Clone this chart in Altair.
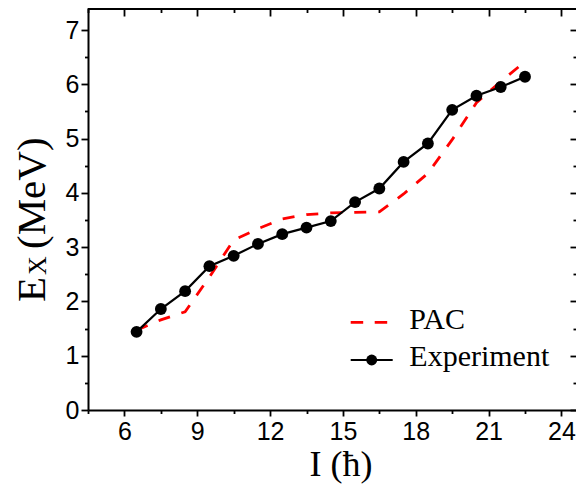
import altair as alt
import pandas as pd

# ---- data ----
spin = [6.5, 7.5, 8.5, 9.5, 10.5, 11.5, 12.5, 13.5, 14.5, 15.5, 16.5, 17.5, 18.5, 19.5, 20.5, 21.5, 22.5]
exp_energy = [1.44, 1.86, 2.19, 2.65, 2.84, 3.06, 3.24, 3.36, 3.48, 3.83, 4.08, 4.57, 4.91, 5.53, 5.79, 5.95, 6.14]
pac_energy = [1.47, 1.66, 1.81, 2.45, 3.13, 3.34, 3.52, 3.60, 3.63, 3.64, 3.65, 3.98, 4.36, 4.98, 5.66, 6.05, 6.42]

x_major = [6, 9, 12, 15, 18, 21, 24]
x_minor = [4.5, 7.5, 10.5, 13.5, 16.5, 19.5, 22.5]
y_major = [0, 1, 2, 3, 4, 5, 6, 7]
y_minor = [0.5, 1.5, 2.5, 3.5, 4.5, 5.5, 6.5]

legend_labels = ["PAC", "Experiment"]
x_title = "I (\u0127)"
y_title_parts = ["E", "X", "(MeV)"]

W, H = 488, 402
X_DOM = [4.5, 24.6]
Y_DOM = [0, 7.406]

df = pd.DataFrame({"I": spin, "exp": exp_energy, "pac": pac_energy})
one = pd.DataFrame({"k": [0]})

xs = alt.Scale(domain=X_DOM, nice=False, zero=False)
ys = alt.Scale(domain=Y_DOM, nice=False, zero=False)

common = dict(grid=False, title=None, tickColor="black", domainColor="black",
              tickWidth=1.8, domainWidth=2, labelColor="black",
              labelFont="Liberation Sans", labelFontSize=25)


def ax(**kw):
    d = dict(common)
    d.update(kw)
    return alt.Axis(**d)


base = alt.Chart(df)

pac = base.mark_line(color="#ff0000", strokeWidth=2.8, strokeDash=[12, 12]).encode(
    x=alt.X("I:Q", scale=xs, axis=ax(orient="bottom", values=x_major, tickSize=6,
                                     labelPadding=3, format="d")),
    y=alt.Y("pac:Q", scale=ys, axis=ax(orient="left", values=y_major, tickSize=7,
                                       labelPadding=2, format="d")),
)

exp_line = base.mark_line(color="black", strokeWidth=2.2).encode(
    x=alt.X("I:Q", scale=xs, axis=ax(orient="bottom", values=x_minor, tickSize=3.5,
                                     labels=False, domain=False)),
    y=alt.Y("exp:Q", scale=ys, axis=ax(orient="left", values=y_minor, tickSize=3.5,
                                       labels=False, domain=False)),
)

exp_pts = base.mark_circle(color="black", opacity=1, size=140).encode(
    x=alt.X("I:Q", scale=xs, axis=ax(orient="top", values=x_major, tickSize=8, offset=-8,
                                     labels=False, domain=False)),
    y=alt.Y("exp:Q", scale=ys, axis=ax(orient="right", values=y_major, tickSize=6, offset=-6,
                                       labels=False, domain=False)),
)

ghost = base.mark_circle(opacity=0, size=1).encode(
    x=alt.X("I:Q", scale=xs, axis=ax(orient="top", values=x_minor, tickSize=4.5, offset=-4.5,
                                     labels=False, domain=False)),
    y=alt.Y("exp:Q", scale=ys, axis=ax(orient="right", values=y_minor, tickSize=3, offset=-3,
                                       labels=False, domain=False)),
)

o = alt.Chart(one)
top_frame = o.mark_rule(color="black", strokeWidth=2).encode(
    x=alt.value(0), x2=alt.value(W), y=alt.value(1))

# legend
leg_pac_line = o.mark_rule(color="#ff0000", strokeWidth=2.8, strokeDash=[12.5, 11.5]).encode(
    x=alt.value(262.7), x2=alt.value(299.5), y=alt.value(314.3))
leg_pac_text = o.mark_text(align="left", baseline="alphabetic", font="Liberation Serif",
                           fontSize=30, color="black").encode(
    x=alt.value(321.3), y=alt.value(321.3), text=alt.value(legend_labels[0]))
leg_exp_line = o.mark_rule(color="black", strokeWidth=2.2).encode(
    x=alt.value(262.7), x2=alt.value(304.7), y=alt.value(352))
leg_exp_dot = o.mark_circle(color="black", opacity=1, size=120).encode(
    x=alt.value(283.7), y=alt.value(352))
leg_exp_text = o.mark_text(align="left", baseline="alphabetic", font="Liberation Serif",
                           fontSize=30, color="black").encode(
    x=alt.value(321.3), y=alt.value(358), text=alt.value(legend_labels[1]))

# axis titles
xt = o.mark_text(align="center", baseline="alphabetic", font="Liberation Serif",
                 fontSize=36, color="black").encode(
    x=alt.value(253), y=alt.value(468), text=alt.value(x_title))
yt_e = o.mark_text(align="left", baseline="alphabetic", font="Liberation Serif",
                   fontSize=41, angle=270, color="black").encode(
    x=alt.value(-43.5), y=alt.value(294), text=alt.value(y_title_parts[0]))
yt_x = o.mark_text(align="left", baseline="alphabetic", font="Liberation Serif",
                   fontSize=26, angle=270, color="black").encode(
    x=alt.value(-42), y=alt.value(267), text=alt.value(y_title_parts[1]))
yt_m = o.mark_text(align="left", baseline="alphabetic", font="Liberation Serif",
                   fontSize=41, angle=270, color="black").encode(
    x=alt.value(-43.5), y=alt.value(241), text=alt.value(y_title_parts[2]))

chart = alt.layer(
    pac, exp_line, exp_pts, ghost, top_frame,
    leg_pac_line, leg_pac_text, leg_exp_line, leg_exp_dot, leg_exp_text,
    xt, yt_e, yt_x, yt_m,
).resolve_scale(x="shared", y="shared").resolve_axis(x="independent", y="independent").properties(
    width=W, height=H, autosize="none",
    padding={"left": 80, "top": 0, "right": 0, "bottom": 74},
    background="white",
).configure_view(stroke=None)

chart.save("out.html", embed_options={"renderer": "svg", "actions": False})
